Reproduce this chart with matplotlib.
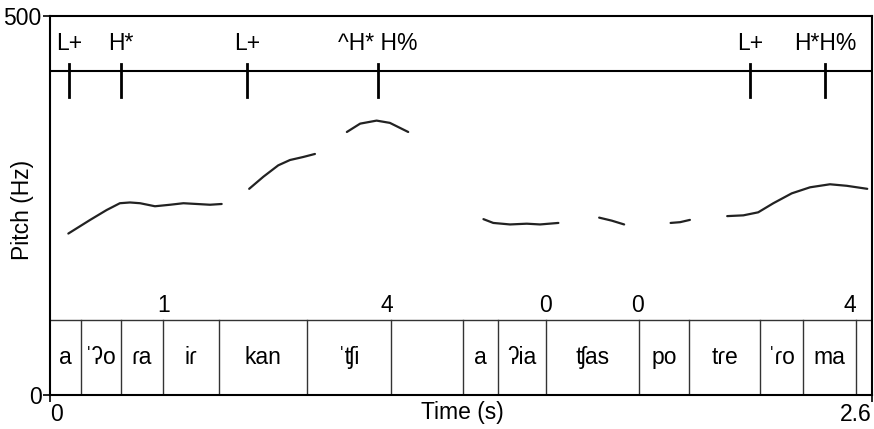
import matplotlib.pyplot as plt

plt.rcParams['font.family'] = ['Liberation Sans', 'DejaVu Sans']
plt.rcParams['font.size'] = 16.5

# pitch contour pieces (time s, pitch Hz)
seg1_t = [0.058, 0.127, 0.179, 0.221, 0.253, 0.285, 0.332, 0.380, 0.422, 0.464, 0.506, 0.543]
seg1_f = [213, 231, 244, 253, 254, 253, 249, 251, 253, 252, 251, 252]
seg2_t = [0.630, 0.675, 0.722, 0.759, 0.801, 0.838]
seg2_f = [272, 288, 303, 310, 314, 318]
seg3_t = [0.939, 0.981, 1.033, 1.075, 1.133]
seg3_f = [347, 358, 362, 359, 347]
seg4_t = [1.371, 1.402, 1.455, 1.508, 1.550, 1.608]
seg4_f = [232, 227, 225, 226, 225, 227]
seg5_t = [1.737, 1.777, 1.816]
seg5_f = [234, 230, 225]
seg6_t = [1.963, 1.993, 2.024]
seg6_f = [227, 228, 231]
seg7_t = [2.142, 2.193, 2.240, 2.288, 2.346, 2.404, 2.467, 2.520, 2.585]
seg7_f = [236, 237, 241, 253, 266, 274, 278, 276, 272]
pieces = [(seg1_t, seg1_f), (seg2_t, seg2_f), (seg3_t, seg3_f), (seg4_t, seg4_f),
          (seg5_t, seg5_f), (seg6_t, seg6_f), (seg7_t, seg7_f)]

# tone tier
tone_times = [0.060, 0.225, 0.623, 1.037, 2.214, 2.451]
tone_labels = ['L+', 'H*', 'L+', '^H* H%', 'L+', 'H*H%']

# break indices
break_times = [0.36, 1.066, 1.566, 1.857, 2.53]
break_labels = ['1', '4', '0', '0', '4']

# segment tier
seg_bounds = [0.0, 0.098, 0.225, 0.357, 0.535, 0.813, 1.079, 1.306, 1.417,
              1.569, 1.863, 2.021, 2.246, 2.382, 2.549, 2.6]
seg_labels = ['a', 'ˈʔo', 'ɾa', 'iɾ', 'kan', 'ˈʧi', '', 'a', 'ʔia', 'ʧas',
              'po', 'tɾe', 'ˈɾo', 'ma', '']

fig = plt.figure(figsize=(8.74, 4.29), dpi=100)
ax = fig.add_axes([50/874, 34/429, 822/874, 379/429])
ax.set_xlim(0, 2.6)
ax.set_ylim(0, 500)

for t, f in pieces:
    ax.plot(t, f, color='#222222', lw=1.6, solid_capstyle='round')

# tone tier box
ax.axhline(427, color='black', lw=1.5)
for t, lab in zip(tone_times, tone_labels):
    ax.plot([t, t], [393, 437], color='black', lw=2)
    ax.text(t, 464, lab, ha='center', va='center')

# break index labels
for t, lab in zip(break_times, break_labels):
    ax.text(t, 118, lab, ha='center', va='center')

# segment tier
ax.axhline(99, color='#333333', lw=1)
for b in seg_bounds[1:-1]:
    ax.plot([b, b], [0, 99], color='#333333', lw=1)
for i, lab in enumerate(seg_labels):
    mid = (seg_bounds[i] + seg_bounds[i+1]) / 2
    ax.text(mid, 50, lab, ha='center', va='center')

for s in ax.spines.values():
    s.set_linewidth(1.5)

ax.set_yticks([0, 500])
ax.set_xticks([0, 2.6])
ax.set_xticklabels(['0', '2.6'])
xl = ax.get_xticklabels()
xl[0].set_ha('left')
xl[1].set_ha('right')
ax.tick_params(length=5, width=1.2, pad=1)

fig.text(462/874, 1 - 413/429, 'Time (s)', ha='center', va='center')
fig.text(22/874, 1 - 210/429, 'Pitch (Hz)', ha='center', va='center', rotation=90)

plt.savefig('out.png', dpi=100)
